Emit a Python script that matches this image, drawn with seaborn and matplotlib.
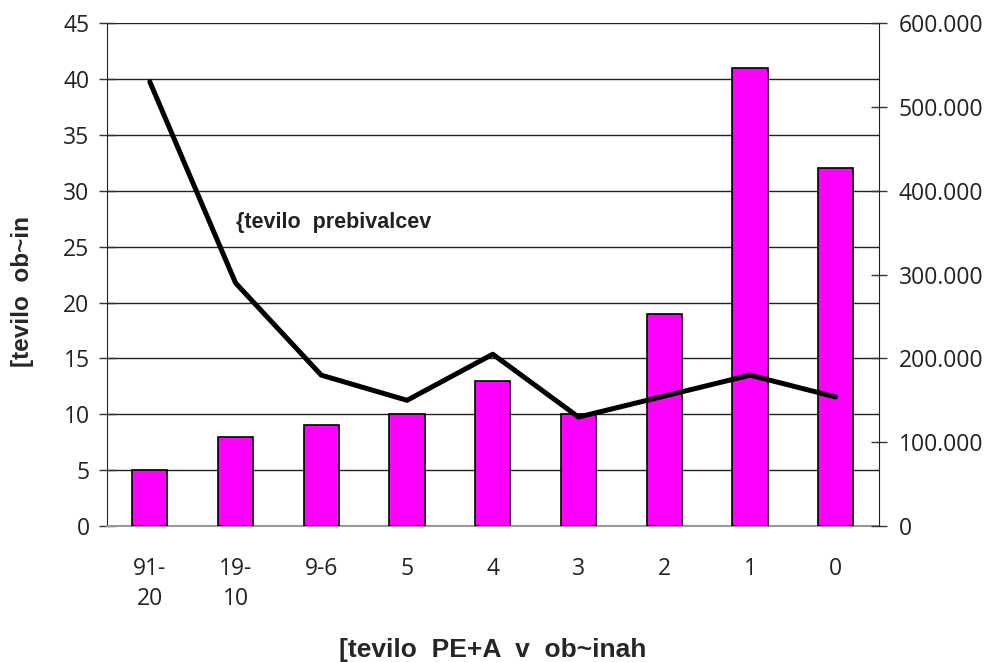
import numpy as np
import pandas as pd
import matplotlib
matplotlib.use('Agg')
import matplotlib.pyplot as plt
import seaborn as sns

# data
categories = ['91-\n20', '19-\n10', '9-6', '5', '4', '3', '2', '1', '0']
municipalities = [5, 8, 9, 10, 13, 10, 19, 41, 32]
population = [530000, 290000, 180000, 150000, 205000, 130000, 155000, 180000, 154000]

left_ticks = [0, 5, 10, 15, 20, 25, 30, 35, 40, 45]
right_ticks = [0, 100000, 200000, 300000, 400000, 500000, 600000]
right_labels = ['0', '100.000', '200.000', '300.000', '400.000', '500.000', '600.000']

df = pd.DataFrame({'cat': categories, 'n': municipalities, 'pop': population})
df['pos'] = np.arange(len(df))

sns.set_style('white')
plt.rcParams['font.family'] = ['Open Sans', 'DejaVu Sans']

fig, ax = plt.subplots(figsize=(9.95, 6.62), dpi=100)
fig.subplots_adjust(left=0.1075, right=0.883, top=0.965, bottom=0.2054)

sns.barplot(data=df, x='cat', y='n', color='#ff00ff', saturation=1,
            width=0.41, edgecolor='black', linewidth=1.2, ax=ax, zorder=3)
ax.set_ylim(0, 45)
ax.set_xlim(-0.5, len(df) - 0.5)
ax.set_yticks(left_ticks)
ax.yaxis.grid(True, color='#222222', linewidth=1.0, zorder=0)
ax.set_axisbelow(True)

for s in ['top', 'right']:
    ax.spines[s].set_visible(False)
ax.spines['left'].set_color('#222222')
ax.spines['bottom'].set_color('#999999')
ax.spines['bottom'].set_linewidth(1.5)

ax.tick_params(axis='y', direction='inout', length=11, width=1, color='#333333',
               labelsize=16.5, labelcolor='#222222', pad=7, left=True)
ax.tick_params(axis='x', length=0, labelsize=16.5, labelcolor='#222222', pad=22)
for lab in ax.get_xticklabels():
    lab.set_linespacing(1.38)
    lab.set_verticalalignment('top')

ax.set_xlabel('[tevilo  PE+A  v  ob~inah', fontsize=19, fontweight='bold',
              family='Liberation Sans')
ax.xaxis.set_label_coords(0.5, -0.2465)
ax.xaxis.label.set_verticalalignment('center')
ax.set_ylabel('[tevilo  ob~in', fontsize=17.5, fontweight='bold',
              family='Liberation Sans')
ax.yaxis.set_label_coords(-0.109, 0.467)
ax.yaxis.label.set_verticalalignment('center')

ax2 = ax.twinx()
sns.lineplot(data=df, x='pos', y='pop', color='black', linewidth=3.6, ax=ax2,
             zorder=4)
ax2.set_ylim(0, 600000)
ax2.set_yticks(right_ticks)
ax2.set_yticklabels(right_labels)
ax2.set_ylabel('')
ax2.set_xlabel('')
for s in ['top', 'left', 'bottom']:
    ax2.spines[s].set_visible(False)
ax2.spines['right'].set_color('#222222')
ax2.tick_params(axis='y', direction='inout', length=11, width=1, color='#333333',
                labelsize=16.5, labelcolor='#222222', pad=9, right=True)

ax2.text(1.0, 362000, '{tevilo  prebivalcev', fontsize=15.5, fontweight='bold',
         family='Liberation Sans', color='#222222', va='center', ha='left')

fig.savefig('out.png', dpi=100)
